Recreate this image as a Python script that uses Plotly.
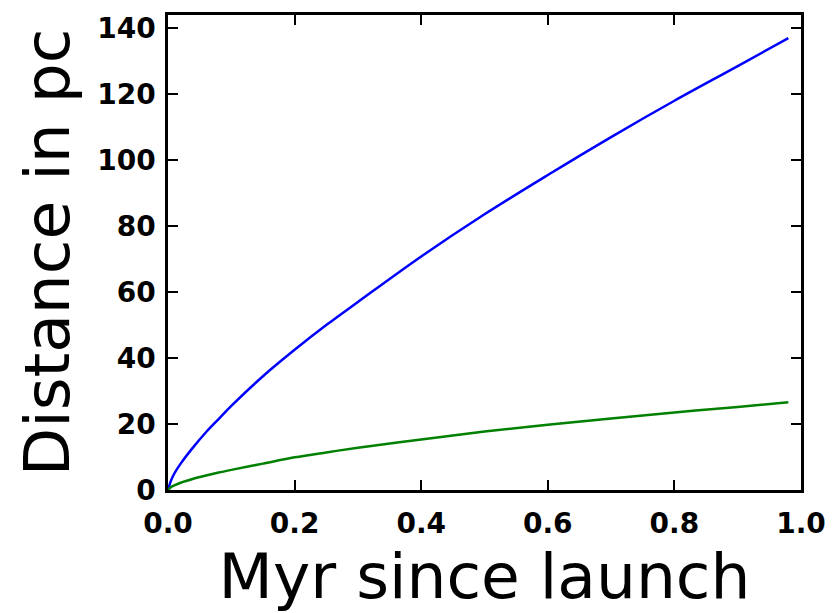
import plotly.graph_objects as go

# Time since launch (Myr)
t_myr = [0.0, 0.005, 0.01, 0.02, 0.04, 0.06, 0.08, 0.10, 0.15, 0.20, 0.25,
         0.30, 0.40, 0.50, 0.60, 0.70, 0.80, 0.90, 0.98]
# Distance (pc), fast track (blue)
dist_fast = [0.0, 3.0, 5.0, 8.0, 13.0, 17.5, 21.5, 25.5, 34.5, 42.5, 50.0,
             57.0, 70.8, 83.6, 95.5, 107.0, 118.0, 128.5, 137.0]
# Distance (pc), slow track (green)
dist_slow = [0.0, 0.9, 1.4, 2.2, 3.4, 4.4, 5.3, 6.1, 8.0, 9.9, 11.4,
             12.8, 15.3, 17.7, 19.8, 21.7, 23.5, 25.2, 26.6]

x_ticks = [0.0, 0.2, 0.4, 0.6, 0.8, 1.0]
x_tick_text = ["0.0", "0.2", "0.4", "0.6", "0.8", "1.0"]
y_ticks = [0, 20, 40, 60, 80, 100, 120, 140]

fig = go.Figure()
fig.add_trace(go.Scatter(x=t_myr, y=dist_fast, mode="lines",
                         line=dict(color="#0000ff", width=2.5, shape="spline"),
                         showlegend=False))
fig.add_trace(go.Scatter(x=t_myr, y=dist_slow, mode="lines",
                         line=dict(color="#008000", width=2.5, shape="spline"),
                         showlegend=False))

tickfont = dict(family="DejaVu Sans", size=28, color="black", weight="bold")
axis_common = dict(showgrid=False, zeroline=False, showline=True,
                   linecolor="black", linewidth=2.5, mirror="allticks",
                   ticks="inside", ticklen=10, tickwidth=1.8, tickcolor="black",
                   tickfont=tickfont)

fig.update_xaxes(range=[0, 1.0], tickvals=x_ticks, ticktext=x_tick_text,
                 ticklabelstandoff=7,
                 title=dict(text="Myr since launch",
                            font=dict(family="DejaVu Sans", size=63, color="black"),
                            standoff=4),
                 **axis_common)
fig.update_yaxes(range=[0, 144], tickvals=y_ticks, ticklabelstandoff=4,
                 title=dict(text="Distance in pc",
                            font=dict(family="DejaVu Sans", size=63, color="black"),
                            standoff=8),
                 **axis_common)

fig.update_layout(width=838, height=613,
                  margin=dict(l=168, r=36, t=13, b=123),
                  paper_bgcolor="white", plot_bgcolor="white")

fig.write_html("out.html")
